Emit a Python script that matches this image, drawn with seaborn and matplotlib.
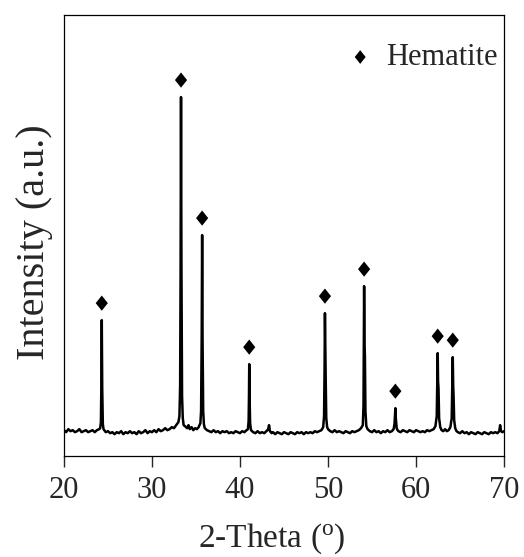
import matplotlib
matplotlib.use("Agg")
import matplotlib.pyplot as plt
import seaborn as sns
import numpy as np

# XRD trace (2-theta in degrees, intensity in arbitrary units)
two_theta = [
    20.0, 20.25, 20.5, 20.75, 21.0, 21.25, 21.5, 21.75, 22.0, 22.25, 22.5, 22.75,
    23.0, 23.25, 23.5, 23.75, 24.0,
    24.12, 24.2, 24.25, 24.3, 24.35, 24.42, 24.5,
    24.75, 25.0, 25.25, 25.5, 25.75, 26.0, 26.25, 26.5, 26.75, 27.0, 27.25, 27.5,
    27.75, 28.0, 28.25, 28.5, 28.75, 29.0, 29.25, 29.5, 29.75, 30.0, 30.25, 30.5,
    30.75, 31.0, 31.25, 31.5, 31.75, 32.0, 32.25, 32.5, 32.75, 33.0,
    33.12, 33.2, 33.25, 33.3, 33.35, 33.42, 33.5, 33.6,
    33.75, 34.0, 34.15, 34.3, 34.5, 34.7, 34.9, 35.1, 35.3, 35.5,
    35.58, 35.65, 35.7, 35.75, 35.82, 35.9, 36.0,
    36.25, 36.5, 36.75, 37.0, 37.25, 37.5, 37.75, 38.0, 38.25, 38.5, 38.75, 39.0,
    39.25, 39.5, 39.75, 40.0, 40.25, 40.5, 40.75,
    40.9, 40.98, 41.02, 41.05, 41.1, 41.15, 41.25,
    41.5, 41.75, 42.0, 42.25, 42.5, 42.75, 43.0, 43.2, 43.3, 43.4, 43.6, 43.75,
    44.0, 44.25, 44.5, 44.75, 45.0, 45.25, 45.5, 45.75, 46.0, 46.25, 46.5, 46.75,
    47.0, 47.25, 47.5, 47.75, 48.0, 48.25, 48.5, 48.75, 49.0, 49.25, 49.45,
    49.55, 49.61, 49.65, 49.7, 49.74, 49.8, 49.9,
    50.0, 50.25, 50.5, 50.75, 51.0, 51.25, 51.5, 51.75, 52.0, 52.25, 52.5, 52.75,
    53.0, 53.25, 53.5, 53.75, 53.95,
    54.03, 54.07, 54.1, 54.15, 54.19, 54.25, 54.35, 54.5,
    54.75, 55.0, 55.25, 55.5, 55.75, 56.0, 56.25, 56.5, 56.75, 57.0, 57.25, 57.45,
    57.55, 57.62, 57.65, 57.7, 57.74, 57.8, 57.9,
    58.0, 58.25, 58.5, 58.75, 59.0, 59.25, 59.5, 59.75, 60.0, 60.25, 60.5, 60.75,
    61.0, 61.25, 61.5, 61.75, 62.0, 62.2,
    62.35, 62.42, 62.46, 62.5, 62.55, 62.62, 62.75,
    62.9, 63.1, 63.3, 63.5, 63.7, 63.9,
    64.05, 64.13, 64.17, 64.22, 64.26, 64.33, 64.45,
    64.6, 64.75, 65.0, 65.25, 65.5, 65.75, 66.0, 66.25, 66.5, 66.75, 67.0, 67.25,
    67.5, 67.75, 68.0, 68.25, 68.5, 68.75, 69.0, 69.25, 69.45, 69.55, 69.65, 69.8,
    70.0,
]
intensity = [
    26, 24, 27, 25, 26, 24, 25, 27, 24, 25, 26, 24,
    25, 26, 24, 26, 27,
    28, 34, 70, 136, 68, 32, 27,
    24, 25, 23, 24, 22, 24, 23, 25, 22, 24, 23, 25,
    23, 24, 22, 25, 23, 24, 26, 23, 25, 24, 26, 24,
    27, 25, 26, 28, 26, 27, 29, 28, 31, 34,
    40, 70, 180, 359, 190, 60, 38, 31,
    30, 28, 31, 27, 29, 26, 28, 27, 29, 33,
    45, 120, 221, 115, 45, 32, 28,
    26, 25, 24, 26, 24, 25, 23, 25, 24, 25, 23, 24,
    23, 25, 24, 23, 25, 24, 26,
    27, 35, 60, 92, 55, 33, 26,
    24, 23, 25, 23, 24, 23, 25, 27, 31, 25, 23, 24,
    22, 24, 23, 22, 24, 23, 22, 24, 23, 22, 24, 23,
    24, 22, 24, 23, 24, 23, 25, 24, 25, 26, 29,
    40, 90, 143, 100, 75, 38, 29,
    27, 25, 24, 26, 24, 25, 24, 23, 25, 24, 23, 25,
    24, 25, 26, 28, 31,
    50, 110, 170, 110, 100, 45, 30, 27,
    25, 24, 26, 24, 25, 23, 25, 24, 26, 24, 25, 27,
    32, 42, 48, 38, 34, 28, 26,
    25, 24, 26, 25, 24, 26, 25, 24, 26, 25, 24, 25,
    24, 26, 25, 26, 27, 30,
    40, 80, 103, 75, 68, 38, 29,
    26, 25, 27, 25, 26, 29,
    38, 80, 99, 70, 61, 36, 28,
    25, 24, 23, 25, 23, 24, 22, 24, 23, 22, 24, 23,
    22, 24, 23, 22, 24, 23, 24, 23, 25, 31, 25, 24,
    25,
]

# hematite reflections marked with diamonds
hematite_pos = [24.3, 33.3, 35.7, 41.05, 49.65, 54.1, 57.65, 62.46, 64.17]
hematite_peak = [136, 359, 221, 92, 143, 170, 48, 103, 99]

sns.set_style("ticks")
plt.rcParams["font.family"] = ["Liberation Serif", "DejaVu Serif"]
plt.rcParams["mathtext.fontset"] = "custom"
plt.rcParams["mathtext.rm"] = "Liberation Serif"

fig = plt.figure(figsize=(5.24, 5.57), dpi=100)
ax = fig.add_axes([0.122, 0.181, 0.840, 0.792])

sns.lineplot(x=two_theta, y=intensity, estimator=None, color="black",
             linewidth=1.8, ax=ax)

diamond = [(0, -1), (0.8, 0), (0, 1), (-0.8, 0)]
sns.scatterplot(x=hematite_pos, y=np.array(hematite_peak) + 17, marker=diamond,
                s=120, color="black", edgecolor="none", label="Hematite", ax=ax)

ax.set_xlim(20, 70)
ax.set_ylim(0, 441)
ax.set_xticks([20, 30, 40, 50, 60, 70])
ax.set_yticks([])
ax.tick_params(axis="x", direction="out", length=8, width=1, labelsize=22, pad=6.5)
for s in ax.spines.values():
    s.set_linewidth(0.9)
    s.set_color("black")

ax.set_xlabel(r"2-Theta ($\mathregular{^o}$)", fontsize=24, labelpad=12)
ax.set_ylabel("Intensity (a.u.)", fontsize=29, labelpad=8)
ax.xaxis.label.set_x(0.473)
ax.yaxis.label.set_y(0.485)

ax.legend(loc="upper right", bbox_to_anchor=(1.034, 0.985), frameon=False,
          fontsize=22, handlelength=1.0, handletextpad=0.35, borderpad=0.2,
          markerscale=0.9)

plt.savefig("out.png", dpi=100)
